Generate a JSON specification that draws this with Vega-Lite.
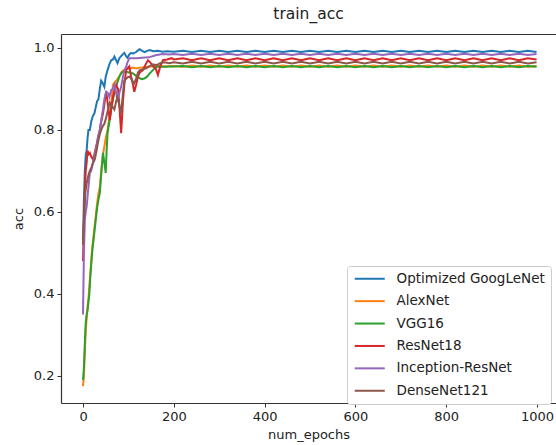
{
  "$schema": "https://vega.github.io/schema/vega-lite/v6.json",
  "width": 495,
  "height": 369,
  "autosize": {"type": "none"},
  "padding": {"left": 61, "top": 34, "right": 0, "bottom": 42},
  "background": "white",
  "config": {
    "view": {"stroke": null},
    "font": "DejaVu Sans",
    "axis": {"labelFont": "DejaVu Sans", "titleFont": "DejaVu Sans", "labelColor": "#222222", "titleColor": "#222222", "domainColor": "#333333", "tickColor": "#333333", "grid": false, "titleFontWeight": "normal", "labelFontSize": 13, "titleFontSize": 13, "tickSize": 4, "domainWidth": 1.2}
  },
  "title": {"text": "train_acc", "fontSize": 15.5, "fontWeight": "normal", "font": "DejaVu Sans", "color": "#222222", "offset": 12, "anchor": "middle"},
  "data": {"values": [
    {"model":"Optimized GoogLeNet","epoch":0,"acc":0.53},
    {"model":"Optimized GoogLeNet","epoch":2,"acc":0.63},
    {"model":"Optimized GoogLeNet","epoch":4,"acc":0.70},
    {"model":"Optimized GoogLeNet","epoch":6,"acc":0.74},
    {"model":"Optimized GoogLeNet","epoch":8,"acc":0.75},
    {"model":"Optimized GoogLeNet","epoch":10,"acc":0.78},
    {"model":"Optimized GoogLeNet","epoch":12,"acc":0.80},
    {"model":"Optimized GoogLeNet","epoch":15,"acc":0.80},
    {"model":"Optimized GoogLeNet","epoch":18,"acc":0.82},
    {"model":"Optimized GoogLeNet","epoch":22,"acc":0.835},
    {"model":"Optimized GoogLeNet","epoch":25,"acc":0.84},
    {"model":"Optimized GoogLeNet","epoch":28,"acc":0.855},
    {"model":"Optimized GoogLeNet","epoch":31,"acc":0.87},
    {"model":"Optimized GoogLeNet","epoch":34,"acc":0.875},
    {"model":"Optimized GoogLeNet","epoch":37,"acc":0.90},
    {"model":"Optimized GoogLeNet","epoch":40,"acc":0.92},
    {"model":"Optimized GoogLeNet","epoch":43,"acc":0.915},
    {"model":"Optimized GoogLeNet","epoch":47,"acc":0.905},
    {"model":"Optimized GoogLeNet","epoch":50,"acc":0.93},
    {"model":"Optimized GoogLeNet","epoch":54,"acc":0.946},
    {"model":"Optimized GoogLeNet","epoch":58,"acc":0.96},
    {"model":"Optimized GoogLeNet","epoch":62,"acc":0.97},
    {"model":"Optimized GoogLeNet","epoch":66,"acc":0.972},
    {"model":"Optimized GoogLeNet","epoch":69,"acc":0.979},
    {"model":"Optimized GoogLeNet","epoch":73,"acc":0.97},
    {"model":"Optimized GoogLeNet","epoch":76,"acc":0.963},
    {"model":"Optimized GoogLeNet","epoch":80,"acc":0.975},
    {"model":"Optimized GoogLeNet","epoch":84,"acc":0.98},
    {"model":"Optimized GoogLeNet","epoch":88,"acc":0.985},
    {"model":"Optimized GoogLeNet","epoch":91,"acc":0.988},
    {"model":"Optimized GoogLeNet","epoch":95,"acc":0.98},
    {"model":"Optimized GoogLeNet","epoch":98,"acc":0.976},
    {"model":"Optimized GoogLeNet","epoch":102,"acc":0.984},
    {"model":"Optimized GoogLeNet","epoch":106,"acc":0.988},
    {"model":"Optimized GoogLeNet","epoch":110,"acc":0.986},
    {"model":"Optimized GoogLeNet","epoch":117,"acc":0.99},
    {"model":"Optimized GoogLeNet","epoch":121,"acc":0.994},
    {"model":"Optimized GoogLeNet","epoch":125,"acc":0.997},
    {"model":"Optimized GoogLeNet","epoch":130,"acc":0.993},
    {"model":"Optimized GoogLeNet","epoch":136,"acc":0.99},
    {"model":"Optimized GoogLeNet","epoch":141,"acc":0.993},
    {"model":"Optimized GoogLeNet","epoch":147,"acc":0.995},
    {"model":"Optimized GoogLeNet","epoch":155,"acc":0.992},
    {"model":"Optimized GoogLeNet","epoch":165,"acc":0.993},
    {"model":"Optimized GoogLeNet","epoch":175,"acc":0.991},
    {"model":"Optimized GoogLeNet","epoch":185,"acc":0.992},
    {"model":"Optimized GoogLeNet","epoch":200,"acc":0.991},
    {"model":"Optimized GoogLeNet","epoch":220,"acc":0.993},
    {"model":"Optimized GoogLeNet","epoch":240,"acc":0.990},
    {"model":"Optimized GoogLeNet","epoch":260,"acc":0.993},
    {"model":"Optimized GoogLeNet","epoch":280,"acc":0.990},
    {"model":"Optimized GoogLeNet","epoch":300,"acc":0.993},
    {"model":"Optimized GoogLeNet","epoch":320,"acc":0.990},
    {"model":"Optimized GoogLeNet","epoch":340,"acc":0.993},
    {"model":"Optimized GoogLeNet","epoch":360,"acc":0.990},
    {"model":"Optimized GoogLeNet","epoch":380,"acc":0.993},
    {"model":"Optimized GoogLeNet","epoch":400,"acc":0.990},
    {"model":"Optimized GoogLeNet","epoch":420,"acc":0.993},
    {"model":"Optimized GoogLeNet","epoch":440,"acc":0.990},
    {"model":"Optimized GoogLeNet","epoch":460,"acc":0.993},
    {"model":"Optimized GoogLeNet","epoch":480,"acc":0.990},
    {"model":"Optimized GoogLeNet","epoch":500,"acc":0.993},
    {"model":"Optimized GoogLeNet","epoch":520,"acc":0.990},
    {"model":"Optimized GoogLeNet","epoch":540,"acc":0.993},
    {"model":"Optimized GoogLeNet","epoch":560,"acc":0.990},
    {"model":"Optimized GoogLeNet","epoch":580,"acc":0.993},
    {"model":"Optimized GoogLeNet","epoch":600,"acc":0.990},
    {"model":"Optimized GoogLeNet","epoch":620,"acc":0.993},
    {"model":"Optimized GoogLeNet","epoch":640,"acc":0.990},
    {"model":"Optimized GoogLeNet","epoch":660,"acc":0.993},
    {"model":"Optimized GoogLeNet","epoch":680,"acc":0.990},
    {"model":"Optimized GoogLeNet","epoch":700,"acc":0.993},
    {"model":"Optimized GoogLeNet","epoch":720,"acc":0.990},
    {"model":"Optimized GoogLeNet","epoch":740,"acc":0.993},
    {"model":"Optimized GoogLeNet","epoch":760,"acc":0.990},
    {"model":"Optimized GoogLeNet","epoch":780,"acc":0.993},
    {"model":"Optimized GoogLeNet","epoch":800,"acc":0.990},
    {"model":"Optimized GoogLeNet","epoch":820,"acc":0.993},
    {"model":"Optimized GoogLeNet","epoch":840,"acc":0.990},
    {"model":"Optimized GoogLeNet","epoch":860,"acc":0.993},
    {"model":"Optimized GoogLeNet","epoch":880,"acc":0.990},
    {"model":"Optimized GoogLeNet","epoch":900,"acc":0.993},
    {"model":"Optimized GoogLeNet","epoch":920,"acc":0.990},
    {"model":"Optimized GoogLeNet","epoch":940,"acc":0.993},
    {"model":"Optimized GoogLeNet","epoch":960,"acc":0.990},
    {"model":"Optimized GoogLeNet","epoch":980,"acc":0.993},
    {"model":"Optimized GoogLeNet","epoch":999,"acc":0.990},

    {"model":"AlexNet","epoch":0,"acc":0.175},
    {"model":"AlexNet","epoch":2,"acc":0.20},
    {"model":"AlexNet","epoch":4,"acc":0.26},
    {"model":"AlexNet","epoch":6,"acc":0.31},
    {"model":"AlexNet","epoch":8,"acc":0.34},
    {"model":"AlexNet","epoch":10,"acc":0.37},
    {"model":"AlexNet","epoch":12,"acc":0.39},
    {"model":"AlexNet","epoch":14,"acc":0.42},
    {"model":"AlexNet","epoch":16,"acc":0.45},
    {"model":"AlexNet","epoch":18,"acc":0.48},
    {"model":"AlexNet","epoch":20,"acc":0.51},
    {"model":"AlexNet","epoch":22,"acc":0.53},
    {"model":"AlexNet","epoch":25,"acc":0.56},
    {"model":"AlexNet","epoch":28,"acc":0.59},
    {"model":"AlexNet","epoch":31,"acc":0.62},
    {"model":"AlexNet","epoch":34,"acc":0.645},
    {"model":"AlexNet","epoch":37,"acc":0.66},
    {"model":"AlexNet","epoch":40,"acc":0.70},
    {"model":"AlexNet","epoch":44,"acc":0.74},
    {"model":"AlexNet","epoch":47,"acc":0.76},
    {"model":"AlexNet","epoch":50,"acc":0.78},
    {"model":"AlexNet","epoch":54,"acc":0.80},
    {"model":"AlexNet","epoch":58,"acc":0.83},
    {"model":"AlexNet","epoch":62,"acc":0.86},
    {"model":"AlexNet","epoch":66,"acc":0.91},
    {"model":"AlexNet","epoch":69,"acc":0.915},
    {"model":"AlexNet","epoch":73,"acc":0.92},
    {"model":"AlexNet","epoch":77,"acc":0.926},
    {"model":"AlexNet","epoch":80,"acc":0.93},
    {"model":"AlexNet","epoch":84,"acc":0.94},
    {"model":"AlexNet","epoch":88,"acc":0.945},
    {"model":"AlexNet","epoch":95,"acc":0.948},
    {"model":"AlexNet","epoch":102,"acc":0.95},
    {"model":"AlexNet","epoch":110,"acc":0.952},
    {"model":"AlexNet","epoch":117,"acc":0.95},
    {"model":"AlexNet","epoch":125,"acc":0.952},
    {"model":"AlexNet","epoch":136,"acc":0.953},
    {"model":"AlexNet","epoch":147,"acc":0.955},
    {"model":"AlexNet","epoch":161,"acc":0.956},
    {"model":"AlexNet","epoch":180,"acc":0.955},
    {"model":"AlexNet","epoch":200,"acc":0.956},
    {"model":"AlexNet","epoch":220,"acc":0.954},
    {"model":"AlexNet","epoch":240,"acc":0.957},
    {"model":"AlexNet","epoch":260,"acc":0.954},
    {"model":"AlexNet","epoch":280,"acc":0.957},
    {"model":"AlexNet","epoch":300,"acc":0.954},
    {"model":"AlexNet","epoch":320,"acc":0.957},
    {"model":"AlexNet","epoch":340,"acc":0.954},
    {"model":"AlexNet","epoch":360,"acc":0.957},
    {"model":"AlexNet","epoch":380,"acc":0.954},
    {"model":"AlexNet","epoch":400,"acc":0.957},
    {"model":"AlexNet","epoch":420,"acc":0.954},
    {"model":"AlexNet","epoch":440,"acc":0.957},
    {"model":"AlexNet","epoch":460,"acc":0.954},
    {"model":"AlexNet","epoch":480,"acc":0.957},
    {"model":"AlexNet","epoch":500,"acc":0.954},
    {"model":"AlexNet","epoch":520,"acc":0.957},
    {"model":"AlexNet","epoch":540,"acc":0.954},
    {"model":"AlexNet","epoch":560,"acc":0.957},
    {"model":"AlexNet","epoch":580,"acc":0.954},
    {"model":"AlexNet","epoch":600,"acc":0.957},
    {"model":"AlexNet","epoch":620,"acc":0.954},
    {"model":"AlexNet","epoch":640,"acc":0.957},
    {"model":"AlexNet","epoch":660,"acc":0.954},
    {"model":"AlexNet","epoch":680,"acc":0.957},
    {"model":"AlexNet","epoch":700,"acc":0.954},
    {"model":"AlexNet","epoch":720,"acc":0.957},
    {"model":"AlexNet","epoch":740,"acc":0.954},
    {"model":"AlexNet","epoch":760,"acc":0.957},
    {"model":"AlexNet","epoch":780,"acc":0.954},
    {"model":"AlexNet","epoch":800,"acc":0.957},
    {"model":"AlexNet","epoch":820,"acc":0.954},
    {"model":"AlexNet","epoch":840,"acc":0.957},
    {"model":"AlexNet","epoch":860,"acc":0.954},
    {"model":"AlexNet","epoch":880,"acc":0.957},
    {"model":"AlexNet","epoch":900,"acc":0.954},
    {"model":"AlexNet","epoch":920,"acc":0.957},
    {"model":"AlexNet","epoch":940,"acc":0.954},
    {"model":"AlexNet","epoch":960,"acc":0.957},
    {"model":"AlexNet","epoch":980,"acc":0.954},
    {"model":"AlexNet","epoch":999,"acc":0.956},

    {"model":"VGG16","epoch":0,"acc":0.19},
    {"model":"VGG16","epoch":2,"acc":0.22},
    {"model":"VGG16","epoch":4,"acc":0.28},
    {"model":"VGG16","epoch":6,"acc":0.33},
    {"model":"VGG16","epoch":8,"acc":0.35},
    {"model":"VGG16","epoch":10,"acc":0.36},
    {"model":"VGG16","epoch":12,"acc":0.38},
    {"model":"VGG16","epoch":14,"acc":0.40},
    {"model":"VGG16","epoch":16,"acc":0.44},
    {"model":"VGG16","epoch":18,"acc":0.47},
    {"model":"VGG16","epoch":20,"acc":0.50},
    {"model":"VGG16","epoch":22,"acc":0.52},
    {"model":"VGG16","epoch":25,"acc":0.55},
    {"model":"VGG16","epoch":28,"acc":0.58},
    {"model":"VGG16","epoch":31,"acc":0.61},
    {"model":"VGG16","epoch":34,"acc":0.63},
    {"model":"VGG16","epoch":37,"acc":0.646},
    {"model":"VGG16","epoch":40,"acc":0.69},
    {"model":"VGG16","epoch":44,"acc":0.744},
    {"model":"VGG16","epoch":47,"acc":0.72},
    {"model":"VGG16","epoch":50,"acc":0.695},
    {"model":"VGG16","epoch":52,"acc":0.75},
    {"model":"VGG16","epoch":54,"acc":0.792},
    {"model":"VGG16","epoch":58,"acc":0.82},
    {"model":"VGG16","epoch":62,"acc":0.85},
    {"model":"VGG16","epoch":66,"acc":0.875},
    {"model":"VGG16","epoch":69,"acc":0.89},
    {"model":"VGG16","epoch":73,"acc":0.906},
    {"model":"VGG16","epoch":77,"acc":0.92},
    {"model":"VGG16","epoch":80,"acc":0.93},
    {"model":"VGG16","epoch":84,"acc":0.938},
    {"model":"VGG16","epoch":88,"acc":0.942},
    {"model":"VGG16","epoch":95,"acc":0.942},
    {"model":"VGG16","epoch":102,"acc":0.94},
    {"model":"VGG16","epoch":110,"acc":0.938},
    {"model":"VGG16","epoch":117,"acc":0.932},
    {"model":"VGG16","epoch":125,"acc":0.926},
    {"model":"VGG16","epoch":130,"acc":0.924},
    {"model":"VGG16","epoch":136,"acc":0.926},
    {"model":"VGG16","epoch":141,"acc":0.93},
    {"model":"VGG16","epoch":147,"acc":0.938},
    {"model":"VGG16","epoch":154,"acc":0.946},
    {"model":"VGG16","epoch":161,"acc":0.954},
    {"model":"VGG16","epoch":170,"acc":0.955},
    {"model":"VGG16","epoch":180,"acc":0.954},
    {"model":"VGG16","epoch":190,"acc":0.955},
    {"model":"VGG16","epoch":200,"acc":0.955},
    {"model":"VGG16","epoch":220,"acc":0.956},
    {"model":"VGG16","epoch":240,"acc":0.953},
    {"model":"VGG16","epoch":260,"acc":0.956},
    {"model":"VGG16","epoch":280,"acc":0.953},
    {"model":"VGG16","epoch":300,"acc":0.956},
    {"model":"VGG16","epoch":320,"acc":0.953},
    {"model":"VGG16","epoch":340,"acc":0.956},
    {"model":"VGG16","epoch":360,"acc":0.953},
    {"model":"VGG16","epoch":380,"acc":0.956},
    {"model":"VGG16","epoch":400,"acc":0.953},
    {"model":"VGG16","epoch":420,"acc":0.956},
    {"model":"VGG16","epoch":440,"acc":0.953},
    {"model":"VGG16","epoch":460,"acc":0.956},
    {"model":"VGG16","epoch":480,"acc":0.953},
    {"model":"VGG16","epoch":500,"acc":0.956},
    {"model":"VGG16","epoch":520,"acc":0.953},
    {"model":"VGG16","epoch":540,"acc":0.956},
    {"model":"VGG16","epoch":560,"acc":0.953},
    {"model":"VGG16","epoch":580,"acc":0.956},
    {"model":"VGG16","epoch":600,"acc":0.953},
    {"model":"VGG16","epoch":620,"acc":0.956},
    {"model":"VGG16","epoch":640,"acc":0.953},
    {"model":"VGG16","epoch":660,"acc":0.956},
    {"model":"VGG16","epoch":680,"acc":0.953},
    {"model":"VGG16","epoch":700,"acc":0.956},
    {"model":"VGG16","epoch":720,"acc":0.953},
    {"model":"VGG16","epoch":740,"acc":0.956},
    {"model":"VGG16","epoch":760,"acc":0.953},
    {"model":"VGG16","epoch":780,"acc":0.956},
    {"model":"VGG16","epoch":800,"acc":0.953},
    {"model":"VGG16","epoch":820,"acc":0.956},
    {"model":"VGG16","epoch":840,"acc":0.953},
    {"model":"VGG16","epoch":860,"acc":0.956},
    {"model":"VGG16","epoch":880,"acc":0.953},
    {"model":"VGG16","epoch":900,"acc":0.956},
    {"model":"VGG16","epoch":920,"acc":0.953},
    {"model":"VGG16","epoch":940,"acc":0.956},
    {"model":"VGG16","epoch":960,"acc":0.953},
    {"model":"VGG16","epoch":980,"acc":0.956},
    {"model":"VGG16","epoch":999,"acc":0.954},

    {"model":"ResNet18","epoch":0,"acc":0.48},
    {"model":"ResNet18","epoch":2,"acc":0.58},
    {"model":"ResNet18","epoch":4,"acc":0.65},
    {"model":"ResNet18","epoch":6,"acc":0.70},
    {"model":"ResNet18","epoch":8,"acc":0.72},
    {"model":"ResNet18","epoch":10,"acc":0.75},
    {"model":"ResNet18","epoch":12,"acc":0.74},
    {"model":"ResNet18","epoch":15,"acc":0.744},
    {"model":"ResNet18","epoch":18,"acc":0.735},
    {"model":"ResNet18","epoch":22,"acc":0.728},
    {"model":"ResNet18","epoch":25,"acc":0.74},
    {"model":"ResNet18","epoch":29,"acc":0.76},
    {"model":"ResNet18","epoch":33,"acc":0.78},
    {"model":"ResNet18","epoch":37,"acc":0.80},
    {"model":"ResNet18","epoch":40,"acc":0.82},
    {"model":"ResNet18","epoch":44,"acc":0.84},
    {"model":"ResNet18","epoch":48,"acc":0.87},
    {"model":"ResNet18","epoch":51,"acc":0.895},
    {"model":"ResNet18","epoch":55,"acc":0.86},
    {"model":"ResNet18","epoch":59,"acc":0.824},
    {"model":"ResNet18","epoch":62,"acc":0.85},
    {"model":"ResNet18","epoch":66,"acc":0.88},
    {"model":"ResNet18","epoch":69,"acc":0.895},
    {"model":"ResNet18","epoch":73,"acc":0.91},
    {"model":"ResNet18","epoch":77,"acc":0.90},
    {"model":"ResNet18","epoch":80,"acc":0.86},
    {"model":"ResNet18","epoch":84,"acc":0.792},
    {"model":"ResNet18","epoch":88,"acc":0.87},
    {"model":"ResNet18","epoch":91,"acc":0.91},
    {"model":"ResNet18","epoch":95,"acc":0.946},
    {"model":"ResNet18","epoch":98,"acc":0.95},
    {"model":"ResNet18","epoch":102,"acc":0.955},
    {"model":"ResNet18","epoch":106,"acc":0.93},
    {"model":"ResNet18","epoch":110,"acc":0.91},
    {"model":"ResNet18","epoch":113,"acc":0.893},
    {"model":"ResNet18","epoch":117,"acc":0.91},
    {"model":"ResNet18","epoch":121,"acc":0.93},
    {"model":"ResNet18","epoch":125,"acc":0.94},
    {"model":"ResNet18","epoch":132,"acc":0.946},
    {"model":"ResNet18","epoch":138,"acc":0.96},
    {"model":"ResNet18","epoch":143,"acc":0.97},
    {"model":"ResNet18","epoch":148,"acc":0.965},
    {"model":"ResNet18","epoch":154,"acc":0.955},
    {"model":"ResNet18","epoch":160,"acc":0.95},
    {"model":"ResNet18","epoch":165,"acc":0.934},
    {"model":"ResNet18","epoch":170,"acc":0.955},
    {"model":"ResNet18","epoch":176,"acc":0.97},
    {"model":"ResNet18","epoch":185,"acc":0.972},
    {"model":"ResNet18","epoch":195,"acc":0.975},
    {"model":"ResNet18","epoch":200,"acc":0.972},
    {"model":"ResNet18","epoch":220,"acc":0.975},
    {"model":"ResNet18","epoch":240,"acc":0.970},
    {"model":"ResNet18","epoch":260,"acc":0.975},
    {"model":"ResNet18","epoch":280,"acc":0.970},
    {"model":"ResNet18","epoch":300,"acc":0.975},
    {"model":"ResNet18","epoch":320,"acc":0.970},
    {"model":"ResNet18","epoch":340,"acc":0.975},
    {"model":"ResNet18","epoch":360,"acc":0.970},
    {"model":"ResNet18","epoch":380,"acc":0.975},
    {"model":"ResNet18","epoch":400,"acc":0.970},
    {"model":"ResNet18","epoch":420,"acc":0.975},
    {"model":"ResNet18","epoch":440,"acc":0.970},
    {"model":"ResNet18","epoch":460,"acc":0.975},
    {"model":"ResNet18","epoch":480,"acc":0.970},
    {"model":"ResNet18","epoch":500,"acc":0.975},
    {"model":"ResNet18","epoch":520,"acc":0.970},
    {"model":"ResNet18","epoch":540,"acc":0.975},
    {"model":"ResNet18","epoch":560,"acc":0.970},
    {"model":"ResNet18","epoch":580,"acc":0.975},
    {"model":"ResNet18","epoch":600,"acc":0.970},
    {"model":"ResNet18","epoch":620,"acc":0.975},
    {"model":"ResNet18","epoch":640,"acc":0.970},
    {"model":"ResNet18","epoch":660,"acc":0.975},
    {"model":"ResNet18","epoch":680,"acc":0.970},
    {"model":"ResNet18","epoch":700,"acc":0.975},
    {"model":"ResNet18","epoch":720,"acc":0.970},
    {"model":"ResNet18","epoch":740,"acc":0.975},
    {"model":"ResNet18","epoch":760,"acc":0.970},
    {"model":"ResNet18","epoch":780,"acc":0.975},
    {"model":"ResNet18","epoch":800,"acc":0.970},
    {"model":"ResNet18","epoch":820,"acc":0.975},
    {"model":"ResNet18","epoch":840,"acc":0.970},
    {"model":"ResNet18","epoch":860,"acc":0.975},
    {"model":"ResNet18","epoch":880,"acc":0.970},
    {"model":"ResNet18","epoch":900,"acc":0.975},
    {"model":"ResNet18","epoch":920,"acc":0.970},
    {"model":"ResNet18","epoch":940,"acc":0.975},
    {"model":"ResNet18","epoch":960,"acc":0.970},
    {"model":"ResNet18","epoch":980,"acc":0.975},
    {"model":"ResNet18","epoch":999,"acc":0.972},

    {"model":"Inception-ResNet","epoch":0,"acc":0.35},
    {"model":"Inception-ResNet","epoch":2,"acc":0.50},
    {"model":"Inception-ResNet","epoch":4,"acc":0.58},
    {"model":"Inception-ResNet","epoch":6,"acc":0.60},
    {"model":"Inception-ResNet","epoch":8,"acc":0.613},
    {"model":"Inception-ResNet","epoch":11,"acc":0.65},
    {"model":"Inception-ResNet","epoch":15,"acc":0.695},
    {"model":"Inception-ResNet","epoch":18,"acc":0.70},
    {"model":"Inception-ResNet","epoch":22,"acc":0.72},
    {"model":"Inception-ResNet","epoch":26,"acc":0.74},
    {"model":"Inception-ResNet","epoch":30,"acc":0.76},
    {"model":"Inception-ResNet","epoch":33,"acc":0.784},
    {"model":"Inception-ResNet","epoch":37,"acc":0.80},
    {"model":"Inception-ResNet","epoch":40,"acc":0.824},
    {"model":"Inception-ResNet","epoch":44,"acc":0.85},
    {"model":"Inception-ResNet","epoch":47,"acc":0.875},
    {"model":"Inception-ResNet","epoch":51,"acc":0.893},
    {"model":"Inception-ResNet","epoch":55,"acc":0.89},
    {"model":"Inception-ResNet","epoch":58,"acc":0.88},
    {"model":"Inception-ResNet","epoch":62,"acc":0.897},
    {"model":"Inception-ResNet","epoch":66,"acc":0.90},
    {"model":"Inception-ResNet","epoch":69,"acc":0.91},
    {"model":"Inception-ResNet","epoch":73,"acc":0.89},
    {"model":"Inception-ResNet","epoch":76,"acc":0.87},
    {"model":"Inception-ResNet","epoch":80,"acc":0.89},
    {"model":"Inception-ResNet","epoch":84,"acc":0.905},
    {"model":"Inception-ResNet","epoch":88,"acc":0.93},
    {"model":"Inception-ResNet","epoch":91,"acc":0.945},
    {"model":"Inception-ResNet","epoch":95,"acc":0.954},
    {"model":"Inception-ResNet","epoch":98,"acc":0.965},
    {"model":"Inception-ResNet","epoch":102,"acc":0.975},
    {"model":"Inception-ResNet","epoch":110,"acc":0.975},
    {"model":"Inception-ResNet","epoch":117,"acc":0.975},
    {"model":"Inception-ResNet","epoch":130,"acc":0.976},
    {"model":"Inception-ResNet","epoch":145,"acc":0.977},
    {"model":"Inception-ResNet","epoch":160,"acc":0.982},
    {"model":"Inception-ResNet","epoch":175,"acc":0.985},
    {"model":"Inception-ResNet","epoch":190,"acc":0.984},
    {"model":"Inception-ResNet","epoch":200,"acc":0.985},
    {"model":"Inception-ResNet","epoch":220,"acc":0.983},
    {"model":"Inception-ResNet","epoch":240,"acc":0.986},
    {"model":"Inception-ResNet","epoch":260,"acc":0.983},
    {"model":"Inception-ResNet","epoch":280,"acc":0.986},
    {"model":"Inception-ResNet","epoch":300,"acc":0.983},
    {"model":"Inception-ResNet","epoch":320,"acc":0.986},
    {"model":"Inception-ResNet","epoch":340,"acc":0.983},
    {"model":"Inception-ResNet","epoch":360,"acc":0.986},
    {"model":"Inception-ResNet","epoch":380,"acc":0.983},
    {"model":"Inception-ResNet","epoch":400,"acc":0.986},
    {"model":"Inception-ResNet","epoch":420,"acc":0.983},
    {"model":"Inception-ResNet","epoch":440,"acc":0.986},
    {"model":"Inception-ResNet","epoch":460,"acc":0.983},
    {"model":"Inception-ResNet","epoch":480,"acc":0.986},
    {"model":"Inception-ResNet","epoch":500,"acc":0.983},
    {"model":"Inception-ResNet","epoch":520,"acc":0.986},
    {"model":"Inception-ResNet","epoch":540,"acc":0.983},
    {"model":"Inception-ResNet","epoch":560,"acc":0.986},
    {"model":"Inception-ResNet","epoch":580,"acc":0.983},
    {"model":"Inception-ResNet","epoch":600,"acc":0.986},
    {"model":"Inception-ResNet","epoch":620,"acc":0.983},
    {"model":"Inception-ResNet","epoch":640,"acc":0.986},
    {"model":"Inception-ResNet","epoch":660,"acc":0.983},
    {"model":"Inception-ResNet","epoch":680,"acc":0.986},
    {"model":"Inception-ResNet","epoch":700,"acc":0.983},
    {"model":"Inception-ResNet","epoch":720,"acc":0.986},
    {"model":"Inception-ResNet","epoch":740,"acc":0.983},
    {"model":"Inception-ResNet","epoch":760,"acc":0.986},
    {"model":"Inception-ResNet","epoch":780,"acc":0.983},
    {"model":"Inception-ResNet","epoch":800,"acc":0.986},
    {"model":"Inception-ResNet","epoch":820,"acc":0.983},
    {"model":"Inception-ResNet","epoch":840,"acc":0.986},
    {"model":"Inception-ResNet","epoch":860,"acc":0.983},
    {"model":"Inception-ResNet","epoch":880,"acc":0.986},
    {"model":"Inception-ResNet","epoch":900,"acc":0.983},
    {"model":"Inception-ResNet","epoch":920,"acc":0.986},
    {"model":"Inception-ResNet","epoch":940,"acc":0.983},
    {"model":"Inception-ResNet","epoch":960,"acc":0.986},
    {"model":"Inception-ResNet","epoch":980,"acc":0.983},
    {"model":"Inception-ResNet","epoch":999,"acc":0.985},

    {"model":"DenseNet121","epoch":0,"acc":0.52},
    {"model":"DenseNet121","epoch":2,"acc":0.58},
    {"model":"DenseNet121","epoch":5,"acc":0.646},
    {"model":"DenseNet121","epoch":8,"acc":0.67},
    {"model":"DenseNet121","epoch":12,"acc":0.69},
    {"model":"DenseNet121","epoch":15,"acc":0.70},
    {"model":"DenseNet121","epoch":19,"acc":0.71},
    {"model":"DenseNet121","epoch":22,"acc":0.72},
    {"model":"DenseNet121","epoch":26,"acc":0.728},
    {"model":"DenseNet121","epoch":30,"acc":0.75},
    {"model":"DenseNet121","epoch":33,"acc":0.77},
    {"model":"DenseNet121","epoch":37,"acc":0.79},
    {"model":"DenseNet121","epoch":40,"acc":0.80},
    {"model":"DenseNet121","epoch":44,"acc":0.81},
    {"model":"DenseNet121","epoch":47,"acc":0.815},
    {"model":"DenseNet121","epoch":51,"acc":0.83},
    {"model":"DenseNet121","epoch":55,"acc":0.85},
    {"model":"DenseNet121","epoch":59,"acc":0.866},
    {"model":"DenseNet121","epoch":62,"acc":0.86},
    {"model":"DenseNet121","epoch":66,"acc":0.855},
    {"model":"DenseNet121","epoch":69,"acc":0.85},
    {"model":"DenseNet121","epoch":73,"acc":0.87},
    {"model":"DenseNet121","epoch":76,"acc":0.88},
    {"model":"DenseNet121","epoch":80,"acc":0.86},
    {"model":"DenseNet121","epoch":84,"acc":0.84},
    {"model":"DenseNet121","epoch":88,"acc":0.89},
    {"model":"DenseNet121","epoch":91,"acc":0.92},
    {"model":"DenseNet121","epoch":95,"acc":0.925},
    {"model":"DenseNet121","epoch":98,"acc":0.928},
    {"model":"DenseNet121","epoch":102,"acc":0.93},
    {"model":"DenseNet121","epoch":106,"acc":0.925},
    {"model":"DenseNet121","epoch":110,"acc":0.918},
    {"model":"DenseNet121","epoch":113,"acc":0.914},
    {"model":"DenseNet121","epoch":117,"acc":0.925},
    {"model":"DenseNet121","epoch":121,"acc":0.94},
    {"model":"DenseNet121","epoch":125,"acc":0.946},
    {"model":"DenseNet121","epoch":132,"acc":0.948},
    {"model":"DenseNet121","epoch":139,"acc":0.95},
    {"model":"DenseNet121","epoch":146,"acc":0.955},
    {"model":"DenseNet121","epoch":154,"acc":0.96},
    {"model":"DenseNet121","epoch":162,"acc":0.958},
    {"model":"DenseNet121","epoch":170,"acc":0.963},
    {"model":"DenseNet121","epoch":180,"acc":0.965},
    {"model":"DenseNet121","epoch":190,"acc":0.963},
    {"model":"DenseNet121","epoch":200,"acc":0.965},
    {"model":"DenseNet121","epoch":220,"acc":0.962},
    {"model":"DenseNet121","epoch":240,"acc":0.966},
    {"model":"DenseNet121","epoch":260,"acc":0.962},
    {"model":"DenseNet121","epoch":280,"acc":0.966},
    {"model":"DenseNet121","epoch":300,"acc":0.962},
    {"model":"DenseNet121","epoch":320,"acc":0.966},
    {"model":"DenseNet121","epoch":340,"acc":0.962},
    {"model":"DenseNet121","epoch":360,"acc":0.966},
    {"model":"DenseNet121","epoch":380,"acc":0.962},
    {"model":"DenseNet121","epoch":400,"acc":0.966},
    {"model":"DenseNet121","epoch":420,"acc":0.962},
    {"model":"DenseNet121","epoch":440,"acc":0.966},
    {"model":"DenseNet121","epoch":460,"acc":0.962},
    {"model":"DenseNet121","epoch":480,"acc":0.966},
    {"model":"DenseNet121","epoch":500,"acc":0.962},
    {"model":"DenseNet121","epoch":520,"acc":0.966},
    {"model":"DenseNet121","epoch":540,"acc":0.962},
    {"model":"DenseNet121","epoch":560,"acc":0.966},
    {"model":"DenseNet121","epoch":580,"acc":0.962},
    {"model":"DenseNet121","epoch":600,"acc":0.966},
    {"model":"DenseNet121","epoch":620,"acc":0.962},
    {"model":"DenseNet121","epoch":640,"acc":0.966},
    {"model":"DenseNet121","epoch":660,"acc":0.962},
    {"model":"DenseNet121","epoch":680,"acc":0.966},
    {"model":"DenseNet121","epoch":700,"acc":0.962},
    {"model":"DenseNet121","epoch":720,"acc":0.966},
    {"model":"DenseNet121","epoch":740,"acc":0.962},
    {"model":"DenseNet121","epoch":760,"acc":0.966},
    {"model":"DenseNet121","epoch":780,"acc":0.962},
    {"model":"DenseNet121","epoch":800,"acc":0.966},
    {"model":"DenseNet121","epoch":820,"acc":0.962},
    {"model":"DenseNet121","epoch":840,"acc":0.966},
    {"model":"DenseNet121","epoch":860,"acc":0.962},
    {"model":"DenseNet121","epoch":880,"acc":0.966},
    {"model":"DenseNet121","epoch":900,"acc":0.962},
    {"model":"DenseNet121","epoch":920,"acc":0.966},
    {"model":"DenseNet121","epoch":940,"acc":0.962},
    {"model":"DenseNet121","epoch":960,"acc":0.966},
    {"model":"DenseNet121","epoch":980,"acc":0.962},
    {"model":"DenseNet121","epoch":999,"acc":0.965}
  ]},
  "layer": [
    {
      "mark": {"type": "line", "strokeWidth": 2, "clip": true},
      "encoding": {
        "x": {"field": "epoch", "type": "quantitative",
              "scale": {"domain": [-48.5, 1041.8], "nice": false, "zero": false},
              "axis": {"orient": "bottom", "values": [0, 200, 400, 600, 800, 1000], "format": "d", "title": "num_epochs", "labelPadding": 3, "titlePadding": 5}},
        "y": {"field": "acc", "type": "quantitative",
              "scale": {"domain": [0.134, 1.034], "nice": false, "zero": false},
              "axis": {"values": [0.2, 0.4, 0.6, 0.8, 1.0], "format": ".1f", "title": "acc", "labelPadding": 3, "titlePadding": 8}},
        "color": {"field": "model", "type": "nominal",
                  "scale": {"domain": ["Optimized GoogLeNet", "AlexNet", "VGG16", "ResNet18", "Inception-ResNet", "DenseNet121"],
                            "range": ["#1f77b4", "#ff7f0e", "#2ca02c", "#d62728", "#9467bd", "#8c564b"]},
                  "legend": {"orient": "none", "legendX": 286, "legendY": 232, "title": null,
                             "symbolType": "M-3,0H3", "symbolSize": 100, "symbolStrokeWidth": 2, "symbolOffset": 10,
                             "labelFontSize": 13.5, "labelFont": "DejaVu Sans", "labelColor": "#222222", "labelOffset": 20,
                             "padding": 6, "rowPadding": 7.4, "strokeColor": "#cccccc", "cornerRadius": 3, "fillColor": "#ffffff"}},
        "order": {"field": "epoch", "type": "quantitative"}
      }
    },
    {
      "mark": {"type": "point", "opacity": 0},
      "encoding": {
        "x": {"field": "epoch", "type": "quantitative",
              "scale": {"domain": [-48.5, 1041.8], "nice": false, "zero": false},
              "axis": {"orient": "top", "labels": false, "ticks": false, "title": null, "domain": true}}
      }
    }
  ],
  "resolve": {"axis": {"x": "independent"}}
}
